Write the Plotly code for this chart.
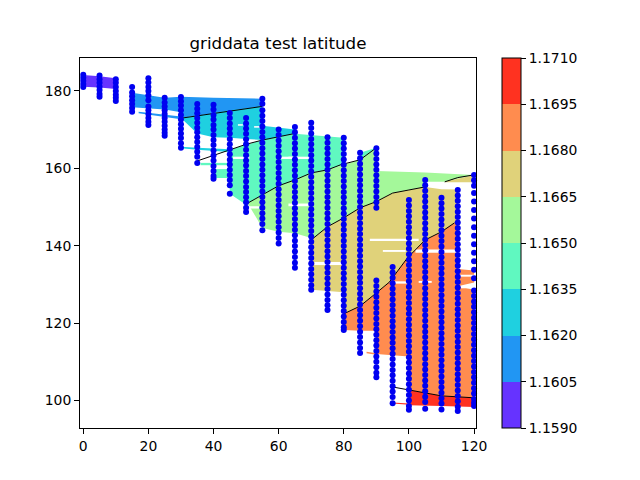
""" griddata test latitude: filled bands, contour lines and sample points """

import plotly.graph_objects as go

level_ticks = [1.159, 1.1605, 1.162, 1.1635, 1.165, 1.1665, 1.168, 1.1695, 1.171]
level_colors = ["#6633ff", "#2196f3", "#1fd0e0", "#60f8c0", "#a4f89a", "#e0d27a", "#ff8c4f", "#ff3220"]

# filled pieces: (level index, x, y)
band_pieces = [
    (0, [0, 5, 10, 10, 5, 0], [184.1, 183.8, 183.3, 180.5, 180.9, 181.1]),
    (1, [15, 25, 30, 40, 55, 55, 30, 30, 25, 15], [179.5, 178.2, 178.5, 178.2, 178, 176, 173, 174.5, 175.2, 175.8]),
    (1, [17, 30, 30, 17], [174.6, 173.4, 172.7, 174.2]),
    (2, [30, 35, 45, 55, 55, 65, 65, 55, 50, 45, 40, 35, 30],
     [173, 173.6, 175, 176, 171, 170, 168.9, 167.3, 167.6, 167.9, 168, 169, 173]),
    (2, [30, 35, 45, 45, 35, 30], [165.6, 165.3, 164.9, 164.2, 164.8, 165.2]),
    (3, [45, 55, 65, 80, 80, 75, 70, 65, 60, 50.5, 50, 45],
     [164.8, 167.3, 168.9, 167.9, 160.9, 159.6, 158.8, 157, 155.5, 151, 150.6, 153.4]),
    (3, [40, 45, 45, 40], [159.8, 159.8, 157.5, 157.5]),
    (3, [36, 45, 45, 36], [161.4, 161.4, 160.8, 160.8]),
    (3, [85, 90, 85], [162.2, 165.3, 164]),
    (4, [50.5, 60, 65, 70, 75, 80, 85, 90, 90, 105, 105, 100, 95, 90, 85, 80, 75, 70, 70, 65, 60, 55],
     [151, 155.5, 157, 158.8, 159.6, 160.9, 162.2, 165.3, 158.8, 157.6, 155.2, 154.4, 153.6, 151.4, 149.8,
      147.2, 144.9, 141.5, 142, 143.2, 143.6, 144.6]),
    (4, [90, 105, 120, 120, 111, 105, 90], [159.3, 158.9, 158.3, 158.3, 156.5, 156.5, 156.5]),
    (5, [70, 75, 80, 85, 90, 95, 100, 105, 110, 115, 115, 114, 110, 105, 99.5, 94, 90, 85, 80, 80, 70],
     [141.5, 144.9, 147.2, 149.8, 151.4, 153.6, 154.4, 155.2, 154.6, 154.5, 146, 145.9, 143.6, 141.5, 136.8,
      130.6, 127.8, 124.4, 122.4, 128, 128.6]),
    (5, [111, 120, 120, 111], [156.5, 158.3, 156.4, 156.4]),
    (6, [80, 85, 90, 94, 99.5, 105, 110, 114, 115, 115, 120, 120, 115, 120, 120, 110, 105, 100, 100, 90, 90, 85, 85, 80],
     [122.4, 124.4, 127.8, 130.6, 136.8, 141.5, 143.6, 145.9, 146, 134, 133.6, 130.5, 129.5, 128.6, 100.7,
      101.2, 102, 102.7, 111.4, 112, 118, 118, 118, 118.2]),
    (6, [87, 90, 90, 87], [112.6, 112.2, 111.8, 112.2]),
    (7, [100, 105, 110, 120, 120, 110, 100], [102.7, 102, 101.2, 100.7, 98.3, 98.6, 98.8]),
    (7, [95, 100, 100, 95], [99.5, 99.2, 98.9, 99.2]),
]

# thin white slits left in the fill: x0, x1, y0, y1
slit_x0 = [60, 46, 51, 63, 63, 71, 88, 92, 102, 95, 115, 103, 47.5, 52.5, 116]
slit_x1 = [66, 51, 54, 70, 70, 80, 103, 99, 115, 100, 120, 107, 49, 55, 120]
slit_y0 = [162.4, 162.4, 149.6, 150.2, 162.4, 135, 141.2, 138.4, 138.2, 130.2, 132, 130.4, 171, 170.5, 129]
slit_y1 = [163, 163, 150.2, 150.9, 163, 135.8, 141.8, 138.9, 139, 130.8, 132.5, 130.9, 171.4, 170.9, 129.5]

# contour lines
line_segments = [
    ([30.5, 40, 50, 55], [173, 174.2, 175.3, 176]),
    ([35, 40, 45, 50, 55, 60, 64.4], [161.9, 163.4, 164.8, 166.2, 167.3, 168.2, 168.9]),
    ([50.5, 55, 60, 65, 70, 75, 79, 85, 90], [151, 153.2, 155.5, 157, 158.8, 159.6, 160.9, 162.2, 165.3]),
    ([70, 75, 80, 85, 90, 95, 100, 105], [141.5, 144.9, 147.2, 149.8, 151.4, 153.6, 154.4, 155.2]),
    ([111, 115, 120], [156.5, 157.6, 158.3]),
    ([80, 85, 90, 94, 99.5, 105, 110, 114], [122.4, 124.4, 127.8, 130.6, 136.8, 141.5, 143.6, 145.9]),
    ([95, 100, 105, 110, 120], [103.5, 102.7, 102, 101.2, 100.7]),
]

column_x = [0, 5, 10, 15, 20, 25, 30, 35, 40, 45, 50, 55, 60, 65, 70, 75, 80, 85, 90, 95, 100, 105, 110, 115, 120]
column_y = [
    [184.2, 183.4, 182.6, 181.8, 181],
    [184, 183, 182.1, 181.1, 180.2, 179.2, 178.5],
    [183, 182.1, 181, 180, 179, 178.2, 177.4],
    [181, 179.6, 178.6, 177.6, 176.6, 175.6, 174.6],
    [183.3, 182.2, 181, 180, 178.8, 177.6, 176, 175, 174, 173, 172, 171.2],
    [178.2, 177, 176, 175, 174, 173, 172, 171, 170, 169.2, 168.4],
    [178.4, 177.3, 176.2, 175, 173.8, 172.6, 171.4, 170.2, 169, 167.8, 166.5, 165.3],
    [176.6, 175.4, 174.2, 173, 171.8, 170.5, 169.3, 168, 166.8, 165.5, 164.3, 163, 161.4],
    [176.4, 175.2, 173.8, 172.6, 171.2, 170, 168.6, 167.3, 166, 164.6, 163.3, 162, 160.6, 159.3, 158, 157.3],
    [174.3, 173, 171.6, 170.3, 169, 167.6, 166.2, 165, 163.6, 162.2, 161, 159.6, 158.3, 157, 155.6, 153.4],
    [173, 171.6, 170.3, 168.9, 167.5, 166.2, 164.8, 163.4, 162, 160.7, 159.3, 158, 156.6, 155.2, 153.9, 152.5,
     151.2, 149.8, 148.7],
    [178, 176.7, 175, 173.6, 172.2, 170.8, 169.4, 168, 166.6, 165.2, 163.8, 162.4, 161, 159.6, 158.2, 156.8,
     155.4, 154, 152.6, 151.2, 149.8, 148.4, 147, 145.6, 144],
    [170, 168.6, 167.2, 165.8, 164.4, 163, 161.6, 160.2, 158.8, 157.4, 156, 154.6, 153.2, 151.8, 150.4, 149,
     147.6, 146.2, 144.8, 143.4, 142, 140.6],
    [170.7, 169.3, 167.9, 166.5, 165.1, 163.7, 162.3, 160.9, 159.5, 158.1, 156.7, 155.3, 153.9, 152.5, 151.1,
     149.7, 148.3, 146.9, 145.5, 144.1, 142.7, 141.3, 139.9, 138.5, 137.1, 135.6, 134.3],
    [171.8, 170.4, 169, 167.6, 166.2, 164.8, 163.4, 162, 160.6, 159.2, 157.8, 156.4, 155, 153.6, 152.2, 150.8,
     149.4, 148, 146.6, 145.2, 143.8, 142.4, 141, 139.6, 138.2, 136.8, 135.4, 134, 132.6, 131.2, 129.8, 128.6],
    [168, 166.6, 165.2, 163.8, 162.4, 161, 159.6, 158.2, 156.8, 155.4, 154, 152.6, 151.2, 149.8, 148.4, 147,
     145.6, 144.2, 142.8, 141.4, 140, 138.6, 137.2, 135.8, 134.4, 133, 131.6, 130.2, 128.8, 127.4, 126, 124.6, 123.4],
    [167.9, 166.5, 165.1, 163.7, 162.3, 160.9, 159.5, 158.1, 156.7, 155.3, 153.9, 152.5, 151.1, 149.7, 148.3,
     146.9, 145.5, 144.1, 142.7, 141.3, 139.9, 138.5, 137.1, 135.7, 134.3, 132.9, 131.5, 130.1, 128.7, 127.3,
     125.9, 124.5, 123.1, 121.7, 120.3, 118.9, 118.2],
    [164, 162.6, 161.2, 159.8, 158.4, 157, 155.6, 154.2, 152.8, 151.4, 150, 148.6, 147.2, 145.8, 144.4, 143,
     141.6, 140.2, 138.8, 137.4, 136, 134.6, 133.2, 131.8, 130.4, 129, 127.6, 126.2, 124.8, 123.4, 122, 120.6,
     119.2, 117.8, 116.4, 115, 113.6, 112.3],
    [165.2, 163.8, 162.4, 161, 159.6, 158.2, 156.8, 155.4, 154, 152.6, 151.2, 149.8,
     131, 129.6, 128.2, 126.8, 125.4, 124, 122.6, 121.2, 119.8, 118.4, 117, 115.6, 114.2, 112.8, 111.4, 110, 108.6,
     107.2, 106],
    [134.5, 133.1, 131.7, 130.3, 128.9, 127.5, 126.1, 124.7, 123.3, 121.9, 120.5, 119.1, 117.7, 116.3, 114.9,
     113.5, 112.1, 110.7, 109.3, 107.9, 106.5, 105.1, 103.7, 102.3, 100.9, 99.3],
    [151.8, 150.4, 149, 147.6, 146.2, 144.8, 143.4, 142, 140.6, 139.2, 137.8, 136.4, 135, 133.6, 132.2, 130.8,
     129.4, 128, 126.6, 125.2, 123.8, 122.4, 121, 119.6, 118.2, 116.8, 115.4, 114, 112.6, 111.2, 109.8, 108.4,
     107, 105.6, 104.2, 102.8, 101.4, 100, 98.6, 97.6],
    [157, 155.6, 154.2, 152.8, 151.4, 150, 148.6, 147.2, 145.8, 144.4, 143, 141.6, 140.2, 138.8, 137.4, 136,
     134.6, 133.2, 131.8, 130.4, 129, 127.6, 126.2, 124.8, 123.4, 122, 120.6, 119.2, 117.8, 116.4, 115, 113.6,
     112.2, 110.8, 109.4, 108, 106.6, 105.2, 103.8, 102.4, 101, 99.6, 97.9],
    [152.4, 151, 149.6, 148.2, 146.8, 145.4, 144, 142.6, 141.2, 139.8, 138.4, 137, 135.6, 134.2, 132.8, 131.4,
     130, 128.6, 127.2, 125.8, 124.4, 123, 121.6, 120.2, 118.8, 117.4, 116, 114.6, 113.2, 111.8, 110.4, 109,
     107.6, 106.2, 104.8, 103.4, 102, 100.6, 99.2, 97.7],
    [154.4, 153, 151.6, 150.2, 148.8, 147.4, 146, 144.6, 143.2, 141.8, 140.4, 139, 137.6, 136.2, 134.8, 133.4,
     132, 130.6, 129.2, 127.8, 126.4, 125, 123.6, 122.2, 120.8, 119.4, 118, 116.6, 115.2, 113.8, 112.4, 111,
     109.6, 108.2, 106.8, 105.4, 104, 102.6, 101.2, 99.8, 98.4, 97.3],
    [158.3, 156.9, 155.5, 153.6, 151.4, 149.2, 147, 144.8, 142.6, 140.4, 138.2, 136, 133.8, 131.6, 128.4, 127,
     125.6, 124.2, 122.8, 121.4, 120, 118.6, 117.2, 115.8, 114.4, 113, 111.6, 110.2, 108.8, 107.4, 106, 104.6,
     103.2, 101.8, 100.4, 99.4, 98.6],
]


def main():
    fig = go.Figure()

    for level, xs, ys in band_pieces:
        fig.add_trace(go.Scatter(x=xs, y=ys, mode="none", fill="toself",
                                 fillcolor=level_colors[level], hoverinfo="skip"))

    for x0, x1, y0, y1 in zip(slit_x0, slit_x1, slit_y0, slit_y1):
        fig.add_trace(go.Scatter(x=[x0, x1, x1, x0], y=[y0, y0, y1, y1], mode="none",
                                 fill="toself", fillcolor="white", hoverinfo="skip"))

    for xs, ys in line_segments:
        fig.add_trace(go.Scatter(x=xs, y=ys, mode="lines", line=dict(color="black", width=1)))

    dots_x = []
    dots_y = []
    for x, ys in zip(column_x, column_y):
        dots_x += [x] * len(ys)
        dots_y += ys
    fig.add_trace(go.Scatter(x=dots_x, y=dots_y, mode="markers", cliponaxis=False,
                             marker=dict(color="#0000f0", size=6)))

    # stepped colour scale only used for the colorbar
    n = len(level_colors)
    scale = []
    for i, c in enumerate(level_colors):
        scale += [[i / n, c], [(i + 1) / n, c]]
    fig.add_trace(go.Scatter(
        x=[None], y=[None], mode="markers",
        marker=dict(color=[level_ticks[0]], cmin=level_ticks[0], cmax=level_ticks[-1], colorscale=scale,
                    colorbar=dict(x=(502 - 80) / 396, xanchor="left", xpad=0, y=0.5, yanchor="middle",
                                  len=1, ypad=0, thickness=19, outlinecolor="black", outlinewidth=1,
                                  tickvals=level_ticks, ticktext=[f"{t:.4f}" for t in level_ticks],
                                  ticks="outside", ticklen=5, tickcolor="black",
                                  tickfont=dict(family="DejaVu Sans", size=13.9, color="black"))),
    ))

    # the page body adds 8px around the plot, so everything sits 8px up and left here
    fig.update_layout(
        width=632, height=472, showlegend=False,
        margin=dict(l=72, r=164, t=50, b=52),
        plot_bgcolor="white", paper_bgcolor="white",
        font=dict(family="DejaVu Sans", color="black"),
        title=dict(text="griddata test latitude", x=270 / 632, xanchor="center", y=1 - 35 / 472, yanchor="middle",
                   font=dict(size=16.7, family="DejaVu Sans", color="black")),
    )
    fig.update_xaxes(range=[-1, 120.6], tickvals=[0, 20, 40, 60, 80, 100, 120], showgrid=False, zeroline=False,
                     showline=True, mirror=True, linecolor="black", linewidth=1, ticks="outside", ticklen=5,
                     tickcolor="black", tickfont=dict(size=13.9))
    fig.update_yaxes(range=[92.9, 188.5], tickvals=[100, 120, 140, 160, 180], showgrid=False, zeroline=False,
                     showline=True, mirror=True, linecolor="black", linewidth=1, ticks="outside", ticklen=5,
                     tickcolor="black", tickfont=dict(size=13.9))

    fig.write_html("out.html")


if __name__ == "__main__":
    main()
